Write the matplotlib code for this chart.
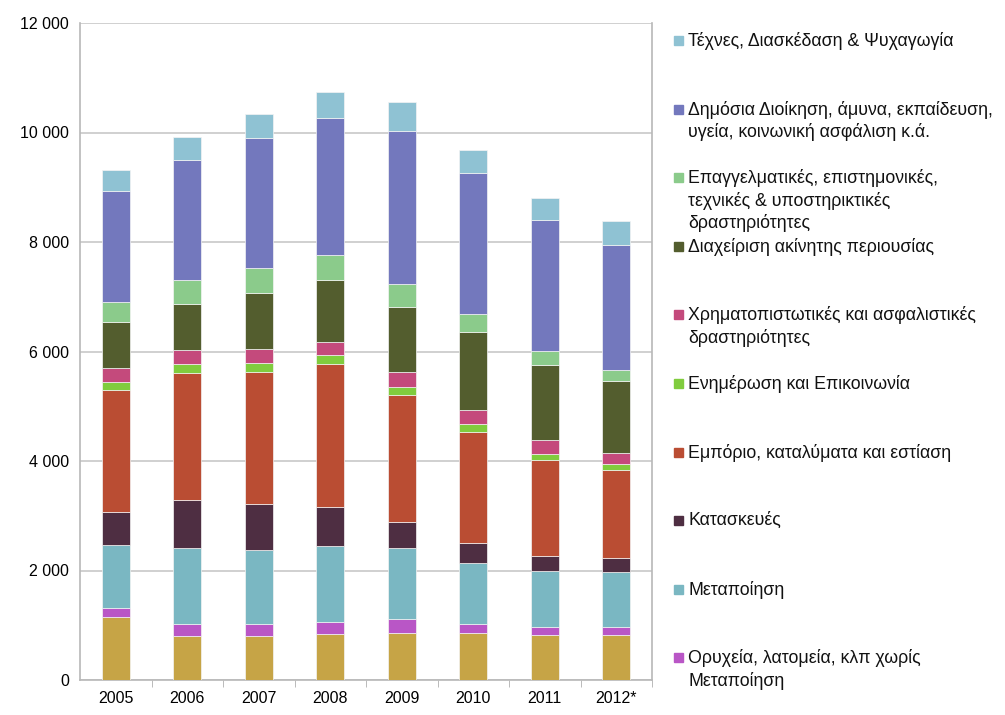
import numpy as np
import matplotlib
matplotlib.use("Agg")
import matplotlib.pyplot as plt
from matplotlib.patches import Rectangle
from matplotlib.ticker import FuncFormatter

plt.rcParams['font.family'] = ['Liberation Sans', 'DejaVu Sans']

years = ['2005', '2006', '2007', '2008', '2009', '2010', '2011', '2012*']

# bottom series (no legend entry in the original)
agriculture   = [1150, 803, 803, 847, 863, 856, 821, 821]
mining        = [158, 221, 221, 208, 246, 162, 154, 147]
manufacturing = [1150, 1384, 1358, 1384, 1298, 1122, 1011, 1011]
construction  = [613, 878, 828, 727, 470, 358, 281, 246]
trade         = [2231, 2313, 2414, 2610, 2330, 2035, 1754, 1614]
info_comm     = [145, 177, 164, 151, 140, 134, 112, 112]
finance       = [247, 252, 253, 240, 281, 266, 246, 196]
real_estate   = [846, 847, 1030, 1144, 1193, 1425, 1368, 1306]
professional  = [373, 436, 455, 449, 414, 323, 267, 217]
public_admin  = [2016, 2193, 2371, 2502, 2786, 2575, 2386, 2267]
arts          = [386, 416, 438, 475, 540, 428, 407, 442]

series = [
    (agriculture, None, '#C6A446'),
    (mining, 'Ορυχεία, λατομεία, κλπ χωρίς\nΜεταποίηση', '#B956C6'),
    (manufacturing, 'Μεταποίηση', '#7AB7C2'),
    (construction, 'Κατασκευές', '#4E2E42'),
    (trade, 'Εμπόριο, καταλύματα και εστίαση', '#BA4D33'),
    (info_comm, 'Ενημέρωση και Επικοινωνία', '#80CC3E'),
    (finance, 'Χρηματοπιστωτικές και ασφαλιστικές\nδραστηριότητες', '#C44A7C'),
    (real_estate, 'Διαχείριση ακίνητης περιουσίας', '#535D2E'),
    (professional, 'Επαγγελματικές, επιστημονικές,\nτεχνικές & υποστηρικτικές\nδραστηριότητες', '#8BCB8B'),
    (public_admin, 'Δημόσια Διοίκηση, άμυνα, εκπαίδευση,\nυγεία, κοινωνική ασφάλιση κ.ά.', '#7378BD'),
    (arts, 'Τέχνες, Διασκέδαση & Ψυχαγωγία', '#8FC2D3'),
]

W, H = 1005, 715
fig = plt.figure(figsize=(W / 100, H / 100), dpi=100)
ax = fig.add_axes([80 / W, 1 - 680 / H, (652 - 80) / W, (680 - 23) / H])

x = np.arange(len(years))
bottom = np.zeros(len(years))
for vals, label, color in series:
    ax.bar(x, vals, 0.39, bottom=bottom, color=color, edgecolor='#f4f4f4',
           linewidth=0.5, zorder=3)
    bottom += np.array(vals)

ax.set_xlim(-0.5, len(years) - 0.5)
ax.set_ylim(0, 12000)
ax.set_yticks(np.arange(0, 12001, 2000))
ax.yaxis.set_major_formatter(FuncFormatter(lambda v, p: f"{int(v):,}".replace(',', ' ')))
ax.grid(axis='y', color='#c8c8c8', linewidth=1.2, zorder=0)

ax.set_xticks(x)
ax.set_xticklabels(years)
ax.set_xticks(np.arange(0.5, len(years), 1), minor=True)
ax.tick_params(axis='x', which='major', length=0, pad=8, labelsize=11.5)
ax.tick_params(axis='x', which='minor', length=5, color='#b0b0b0', direction='out')
ax.tick_params(axis='y', length=0, pad=8, labelsize=11.5)

for s in ['left', 'right', 'bottom']:
    ax.spines[s].set_color('#b8b8b8')
    ax.spines[s].set_linewidth(1.2)
ax.spines['top'].set_visible(False)

# legend, drawn top to bottom like the original
legend_items = [s for s in series if s[1] is not None][::-1]
y0 = 42
step = 68.6
for i, (_, label, color) in enumerate(legend_items):
    yy = y0 + i * step
    fig.patches.append(Rectangle((674 / W, 1 - (yy + 3) / H), 9 / W, 9 / H,
                                 transform=fig.transFigure, color=color))
    fig.text(688 / W, 1 - (yy - 10) / H, label, fontsize=12.8, va='top', ha='left',
             linespacing=1.32, color='#111111')

fig.savefig('out.png', dpi=100)
